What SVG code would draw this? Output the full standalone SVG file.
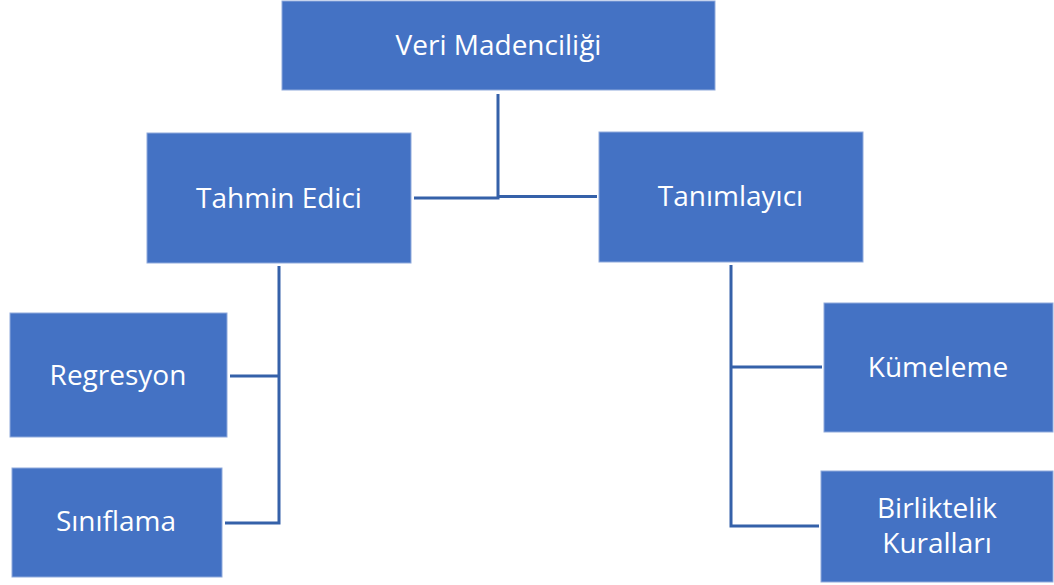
<svg xmlns="http://www.w3.org/2000/svg" width="1054" height="585" viewBox="0 0 1054 585">
<style>
.box{fill:#4472C4;stroke:#8FAADC;stroke-width:1}
.lbl{fill:#ffffff;font-family:"Open Sans","Noto Sans",sans-serif;font-size:28px;text-anchor:middle}
.con{fill:none;stroke:#3561A9;stroke-width:3}
</style>
<rect width="1054" height="585" fill="#ffffff"/>
<g id="connectors">
<path class="con" d="M414,198 H498 V94"/>
<path class="con" d="M498,196.5 H597"/>
<path class="con" d="M230,376 H279 V266 M279,376 V523 H225"/>
<path class="con" d="M731,265 V526 H819 M731,367 H822"/>
</g>
<g id="veri-madenciligi">
<rect class="box" x="282" y="1" width="433" height="89"/>
<text class="lbl" x="498.5" y="55">Veri Madenciliği</text>
</g>
<g id="tahmin-edici">
<rect class="box" x="147" y="133" width="264" height="130"/>
<text class="lbl" x="279" y="208">Tahmin Edici</text>
</g>
<g id="tanimlayici">
<rect class="box" x="599" y="132" width="264" height="130"/>
<text class="lbl" x="730.5" y="206">Tanımlayıcı</text>
</g>
<g id="regresyon">
<rect class="box" x="10" y="313" width="217" height="124"/>
<text class="lbl" x="118" y="385">Regresyon</text>
</g>
<g id="siniflama">
<rect class="box" x="12" y="468" width="210" height="109"/>
<text class="lbl" x="116" y="531">Sınıflama</text>
</g>
<g id="kumeleme">
<rect class="box" x="824" y="303" width="229" height="129"/>
<text class="lbl" x="938" y="377">Kümeleme</text>
</g>
<g id="birliktelik-kurallari">
<rect class="box" x="821" y="471" width="232" height="111"/>
<text class="lbl" x="937" y="518">Birliktelik</text>
<text class="lbl" x="937" y="553">Kuralları</text>
</g>
</svg>
